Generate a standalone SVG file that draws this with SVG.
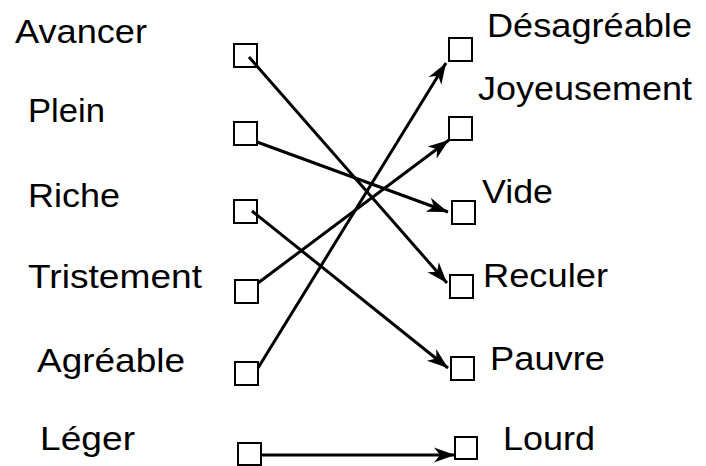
<svg xmlns="http://www.w3.org/2000/svg" width="706" height="466" viewBox="0 0 706 466">
  <style>
    .lbl { font-family: "Liberation Sans", Arial, sans-serif; font-size: 33px; fill: #000; }
    .box { fill: #fff; stroke: #000; stroke-width: 2; }
    .link { stroke: #000; stroke-width: 3; fill: none; marker-end: url(#arrow); }
  </style>
  <defs>
    <marker id="arrow" viewBox="-22 -8 24 16" markerUnits="userSpaceOnUse" markerWidth="24" markerHeight="16" refX="0" refY="0" orient="auto">
      <path d="M0,0 L-21,-7.5 L-15,0 L-21,7.5 Z" fill="#000"/>
    </marker>
  </defs>
  <rect width="706" height="466" fill="#fff"/>

  <!-- left column -->
  <g id="avancer">
    <text class="lbl" x="15" y="43" textLength="132" lengthAdjust="spacingAndGlyphs">Avancer</text>
    <rect class="box" x="234" y="44" width="23" height="23"/>
  </g>
  <g id="plein">
    <text class="lbl" x="28" y="122" textLength="77" lengthAdjust="spacingAndGlyphs">Plein</text>
    <rect class="box" x="234" y="122" width="23" height="23"/>
  </g>
  <g id="riche">
    <text class="lbl" x="28" y="207" textLength="92" lengthAdjust="spacingAndGlyphs">Riche</text>
    <rect class="box" x="234" y="200" width="23" height="23"/>
  </g>
  <g id="tristement">
    <text class="lbl" x="28" y="288" textLength="174" lengthAdjust="spacingAndGlyphs">Tristement</text>
    <rect class="box" x="235" y="280" width="23" height="23"/>
  </g>
  <g id="agreable">
    <text class="lbl" x="37" y="372" textLength="148" lengthAdjust="spacingAndGlyphs">Agréable</text>
    <rect class="box" x="235" y="362" width="23" height="23"/>
  </g>
  <g id="leger">
    <text class="lbl" x="40" y="450" textLength="95" lengthAdjust="spacingAndGlyphs">Léger</text>
    <rect class="box" x="238" y="443" width="23" height="22"/>
  </g>

  <!-- right column -->
  <g id="desagreable">
    <rect class="box" x="449" y="38" width="23" height="23"/>
    <text class="lbl" x="487" y="37" textLength="205" lengthAdjust="spacingAndGlyphs">Désagréable</text>
  </g>
  <g id="joyeusement">
    <rect class="box" x="449" y="117" width="23" height="23"/>
    <text class="lbl" x="478" y="100" textLength="214" lengthAdjust="spacingAndGlyphs">Joyeusement</text>
  </g>
  <g id="vide">
    <rect class="box" x="452" y="201" width="23" height="23"/>
    <text class="lbl" x="482" y="203" textLength="71" lengthAdjust="spacingAndGlyphs">Vide</text>
  </g>
  <g id="reculer">
    <rect class="box" x="450" y="275" width="23" height="23"/>
    <text class="lbl" x="483" y="287" textLength="125" lengthAdjust="spacingAndGlyphs">Reculer</text>
  </g>
  <g id="pauvre">
    <rect class="box" x="451" y="357" width="23" height="23"/>
    <text class="lbl" x="490" y="370" textLength="115" lengthAdjust="spacingAndGlyphs">Pauvre</text>
  </g>
  <g id="lourd">
    <rect class="box" x="455" y="437" width="22" height="22"/>
    <text class="lbl" x="503" y="450" textLength="92" lengthAdjust="spacingAndGlyphs">Lourd</text>
  </g>

  <!-- connectors -->
  <g id="connectors">
    <line class="link" x1="249" y1="57" x2="447" y2="283"/>
    <line class="link" x1="257" y1="142" x2="448" y2="212"/>
    <line class="link" x1="252" y1="211" x2="448" y2="368"/>
    <line class="link" x1="258" y1="283" x2="449" y2="140"/>
    <line class="link" x1="258" y1="368" x2="446" y2="63"/>
    <line class="link" x1="261" y1="455" x2="455" y2="455"/>
  </g>
</svg>
